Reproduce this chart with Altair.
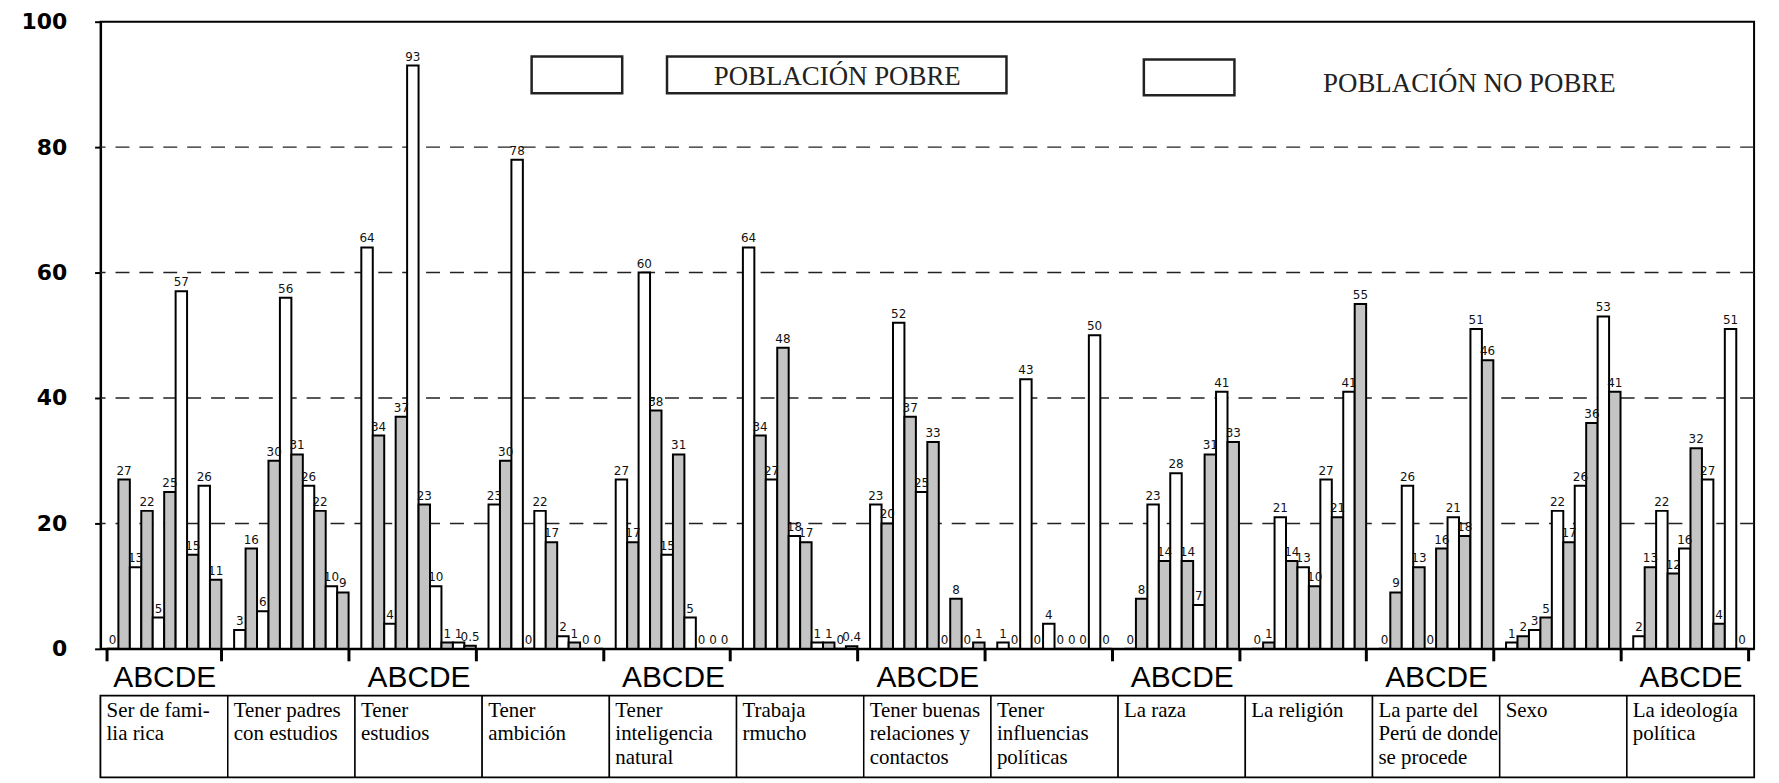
import altair as alt
import pandas as pd

# ---------------- data ----------------
categorias = [
    "Ser de fami-\nlia rica",
    "Tener padres\ncon estudios",
    "Tener\nestudios",
    "Tener\nambición",
    "Tener\ninteligencia\nnatural",
    "Trabaja\nrmucho",
    "Tener buenas\nrelaciones  y\ncontactos",
    "Tener\ninfluencias\npolíticas",
    "La raza",
    "La religión",
    "La parte del\nPerú de donde\nse procede",
    "Sexo",
    "La      ideología\npolítica",
]
letras = ["A", "B", "C", "D", "E"]
poblaciones = ["POBLACIÓN POBRE", "POBLACIÓN NO POBRE"]

# values A..E for each category
pobre = [
    [0, 13, 5, 57, 26],
    [3, 6, 56, 26, 10],
    [64, 4, 93, 10, 1],
    [23, 78, 22, 2, 0],
    [27, 60, 15, 5, 0],
    [64, 27, 18, 1, 0],
    [23, 52, 25, 0, 0],
    [1, 43, 4, 0, 50],
    [0, 23, 28, 7, 41],
    [0, 21, 13, 27, 41],
    [0, 26, 0, 21, 51],
    [1, 3, 22, 26, 53],
    [2, 22, 16, 27, 51],
]
no_pobre = [
    [27, 22, 25, 15, 11],
    [16, 30, 31, 22, 9],
    [34, 37, 23, 1, 0.5],
    [30, 0, 17, 1, 0],
    [17, 38, 31, 0, 0],
    [34, 48, 17, 1, 0.4],
    [20, 37, 33, 8, 1],
    [0, 0, 0, 0, 0],
    [8, 14, 14, 31, 33],
    [1, 14, 10, 21, 55],
    [9, 13, 16, 18, 46],
    [2, 5, 17, 36, 41],
    [13, 12, 32, 4, 0],
]
ticks_y = [0, 20, 40, 60, 80, 100]
grid_y = [20, 40, 60, 80]
ids = [str(i + 1) for i in range(len(categorias))]
grupos_con_letras = ids[0::2]

rows = []
for g in range(len(categorias)):
    for li, L in enumerate(letras):
        for pi, serie in enumerate([pobre, no_pobre]):
            v = serie[g][li]
            rows.append({
                "grupo": ids[g],
                "barra": 2 * li + pi,
                "poblacion": poblaciones[pi],
                "letra": L,
                "valor": v,
                "etiqueta": f"{v:g}",
            })
df = pd.DataFrame(rows)

W = 1661
H = 630

label_expr = "indexof(" + str(grupos_con_letras) + ", datum.value) >= 0 ? 'ABCDE' : ''"

xenc = alt.X(
    "grupo:N",
    sort=ids,
    scale=alt.Scale(domain=ids, paddingInner=0.1, paddingOuter=0.05),
    axis=alt.Axis(
        title=None, labelExpr=label_expr, labelAngle=0,
        labelFont="Liberation Sans", labelFontSize=30, labelColor="black",
        tickBand="extent", tickSize=12, tickWidth=3, tickColor="black",
        domainColor="black", domainWidth=2, labelPadding=2,
        labelOverlap=False, minExtent=40, maxExtent=40,
    ),
)
xoff = alt.XOffset("barra:O", scale=alt.Scale(paddingInner=0, paddingOuter=0))
yaxis = alt.Axis(
    title=None, values=ticks_y, grid=False,
    labelFont="DejaVu Sans", labelFontWeight="bold", labelFontSize=22,
    labelColor="black", domainColor="black", domainWidth=2,
    tickColor="black", tickSize=6, tickWidth=2, labelPadding=28,
    minExtent=92, maxExtent=92,
)
yscale = alt.Scale(domain=[0, 100], nice=False)
yenc = alt.Y("valor:Q", scale=yscale, axis=yaxis)

grid = alt.Chart(pd.DataFrame({"valor": grid_y})).mark_rule(
    strokeDash=[14, 10], color="#222", strokeWidth=1.5
).encode(y=yenc)

bars = alt.Chart(df).mark_bar(stroke="black", strokeWidth=2).encode(
    x=xenc, xOffset=xoff, y=yenc,
    fill=alt.Fill("poblacion:N", scale=alt.Scale(domain=poblaciones, range=["white", "#c4c4c4"]), legend=None),
)
labels = alt.Chart(df).mark_text(font="DejaVu Sans", fontSize=12, dy=-9, color="#111").encode(
    x=xenc, xOffset=xoff, y=yenc, text="etiqueta:N",
)

one = pd.DataFrame({"k": [0]})
box1 = alt.Chart(one).mark_rect(fill="white", stroke="#222", strokeWidth=2.5).encode(
    x=alt.value(433), x2=alt.value(524), y=alt.value(35), y2=alt.value(72))
box2 = alt.Chart(one).mark_rect(fill="white", stroke="#222", strokeWidth=2.5).encode(
    x=alt.value(569), x2=alt.value(910), y=alt.value(35), y2=alt.value(72))
box3 = alt.Chart(one).mark_rect(fill="white", stroke="#222", strokeWidth=2.5).encode(
    x=alt.value(1048), x2=alt.value(1139), y=alt.value(38), y2=alt.value(74))
txt1 = alt.Chart(one).mark_text(font="Liberation Serif", fontSize=27, color="#222", baseline="middle").encode(
    x=alt.value(740), y=alt.value(56), text=alt.value(poblaciones[0]))
txt2 = alt.Chart(one).mark_text(font="Liberation Serif", fontSize=27, color="#222", baseline="middle").encode(
    x=alt.value(1375), y=alt.value(63), text=alt.value(poblaciones[1]))

top = alt.layer(grid, bars, labels, box1, box2, box3, txt1, txt2).properties(width=W, height=H)

tabla = pd.DataFrame({"grupo": ids, "texto": categorias, "fila": ["f"] * len(ids)})
xt = alt.X("grupo:N", sort=ids, scale=alt.Scale(domain=ids, paddingInner=0, paddingOuter=0), axis=None)
cells = alt.Chart(tabla).mark_rect(fill="white", stroke="black", strokeWidth=1.5).encode(
    x=xt,
    y=alt.Y("fila:N", axis=alt.Axis(title=None, labels=False, ticks=False, domain=False,
                                     minExtent=92, maxExtent=92)),
)
ctext = alt.Chart(tabla).mark_text(
    align="left", baseline="top", font="Liberation Serif", fontSize=21,
    lineBreak="\n", lineHeight=24, dx=6, color="black"
).encode(
    x=alt.X("grupo:N", sort=ids, scale=alt.Scale(domain=ids, paddingInner=0, paddingOuter=0),
            axis=None, bandPosition=0),
    y=alt.value(4),
    text="texto:N",
)
table = alt.layer(cells, ctext).properties(width=W, height=82)

chart = alt.vconcat(top, table, spacing=0).properties(
    padding={"left": 0, "top": 0, "right": 5, "bottom": 0}
).configure_view(stroke="black", strokeWidth=2)

chart.save("out.html", embed_options={"renderer": "svg", "actions": False})
